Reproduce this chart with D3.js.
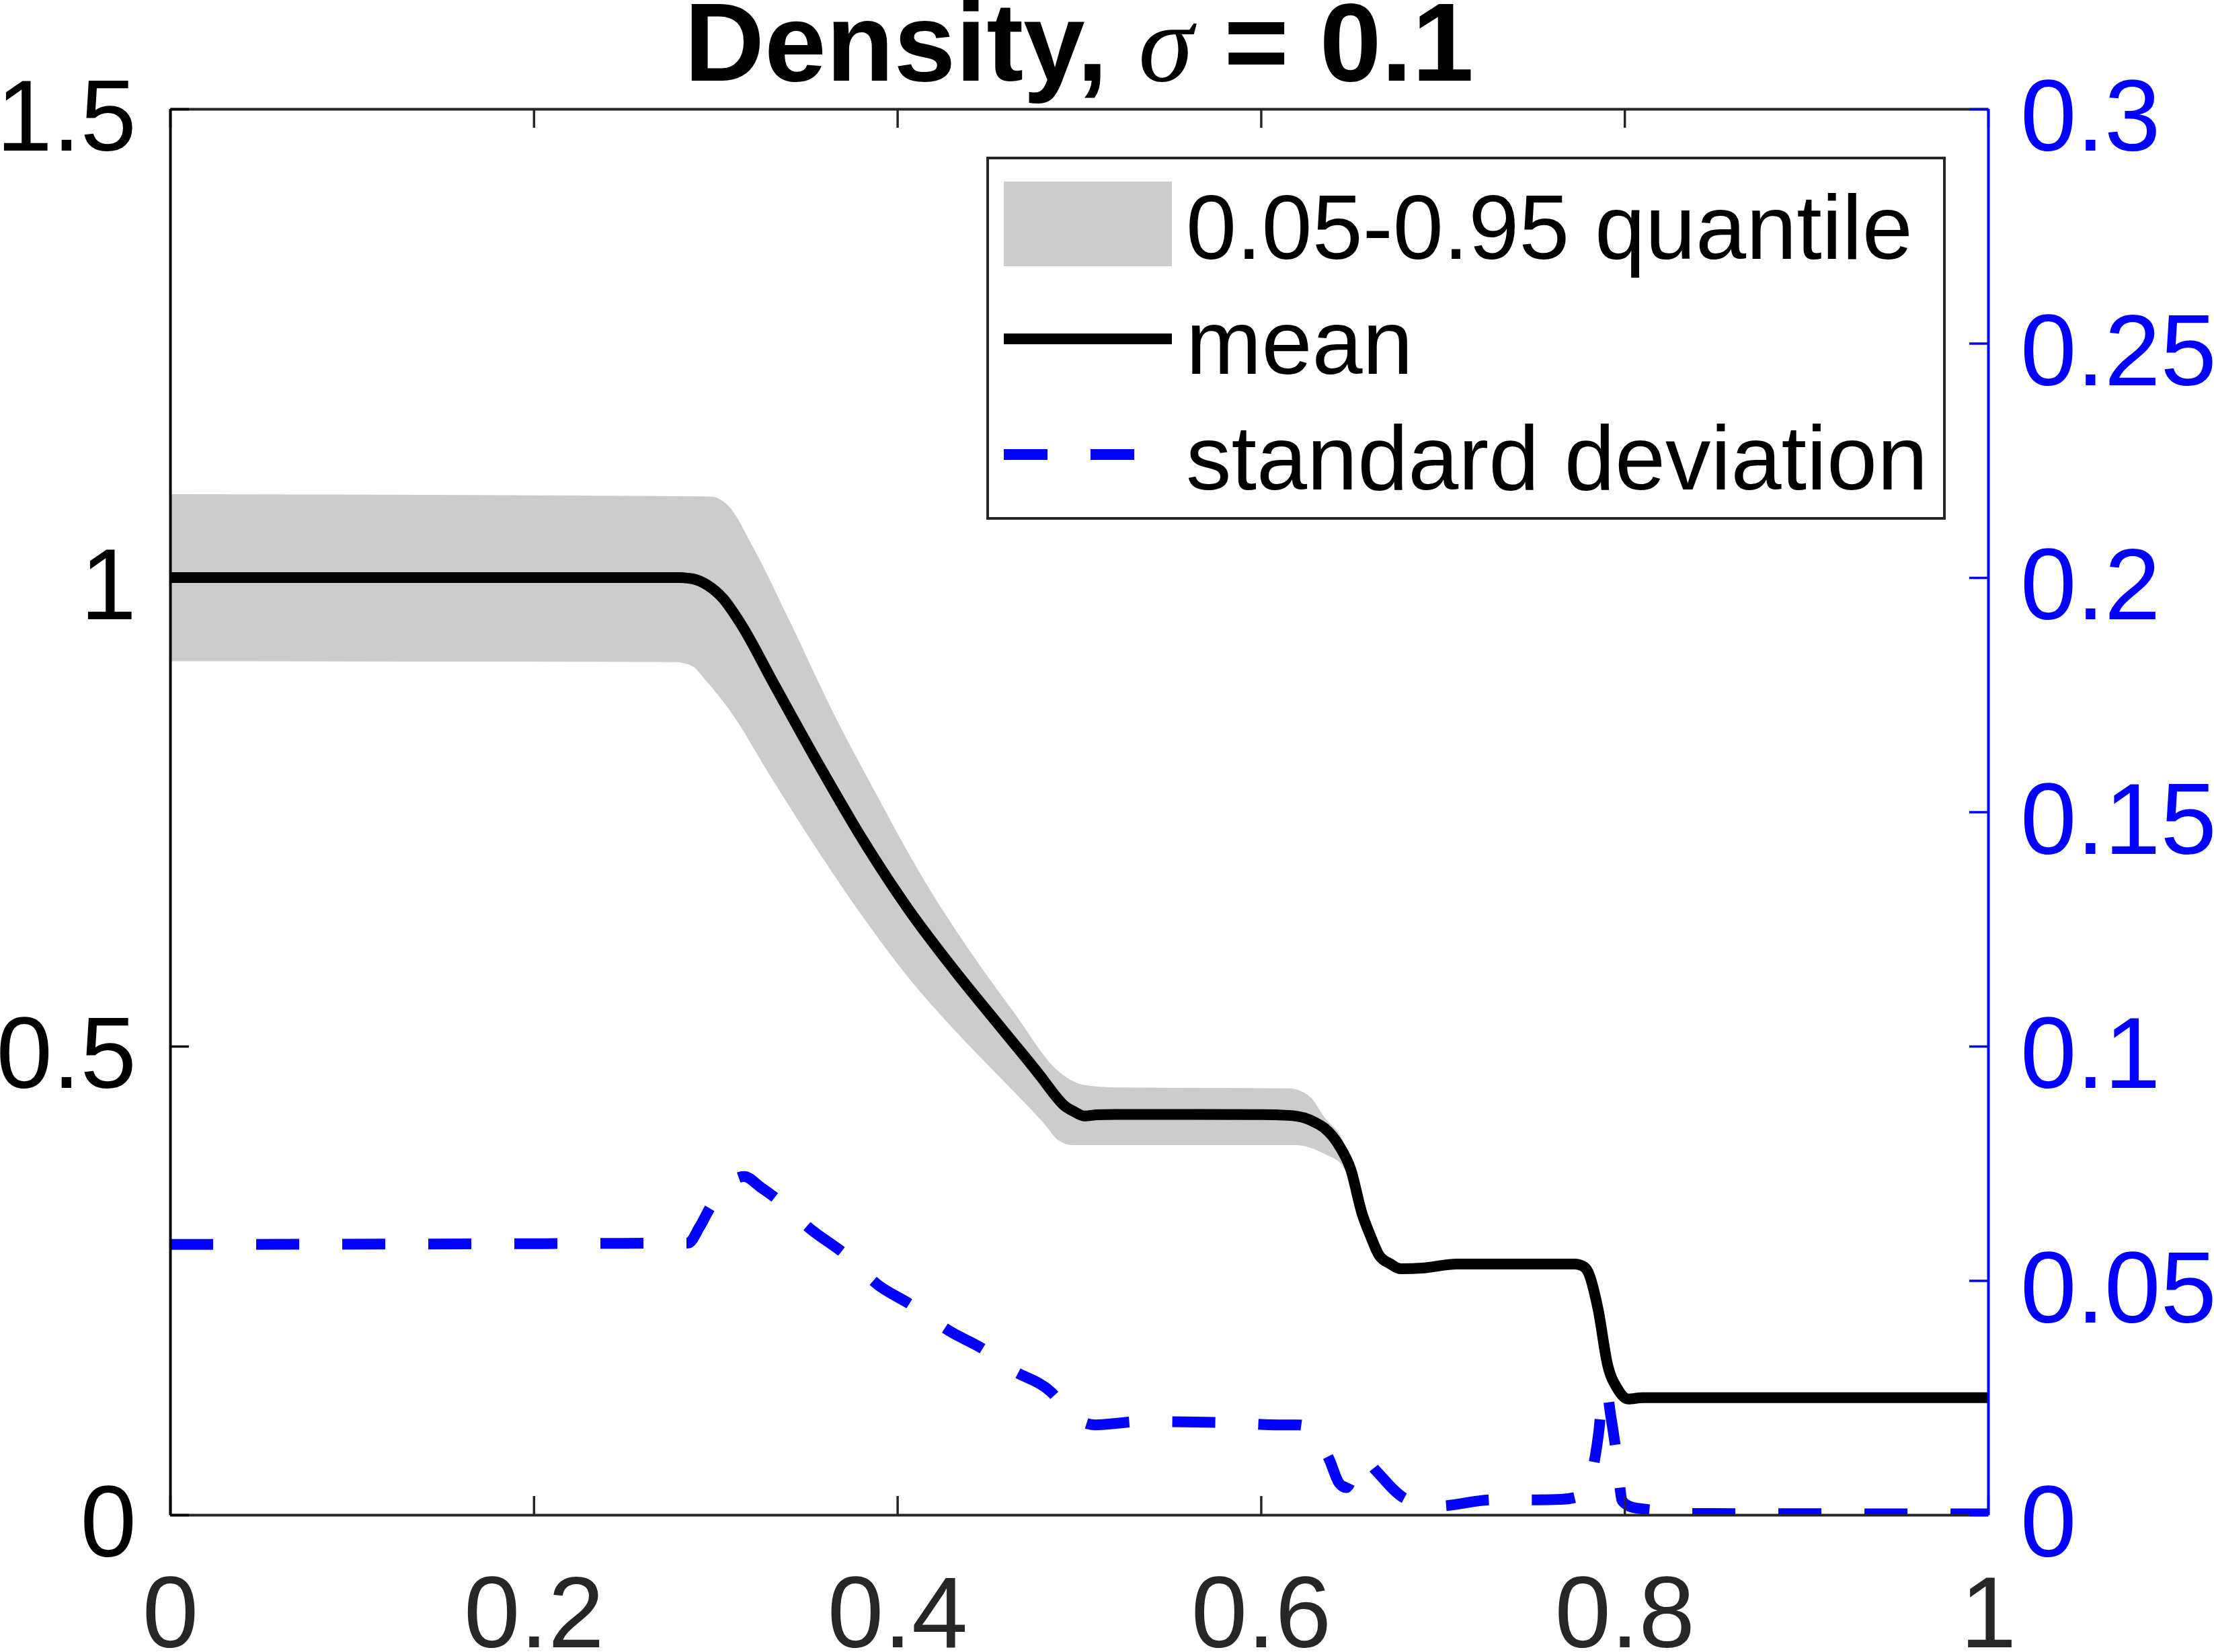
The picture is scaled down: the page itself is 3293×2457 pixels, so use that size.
<!DOCTYPE html>
<html>
<head>
<meta charset="utf-8">
<script src="https://cdn.jsdelivr.net/npm/d3@7"></script>
<style>
  body { margin: 0; background: #fff; }
  text { font-family: "Liberation Sans", Arial, Helvetica, sans-serif; }
</style>
</head>
<body>
<div id="chart"></div>
<script>
// mean density (left axis)
const meanX = [0, 0.28, 0.2874, 0.2957, 0.304, 0.3139, 0.332, 0.3568, 0.3816, 0.4063, 0.4311, 0.4559, 0.4806, 0.487, 0.4922, 0.497, 0.503, 0.51, 0.52, 0.6, 0.615, 0.624, 0.63, 0.635, 0.643, 0.6494, 0.6557, 0.66, 0.665, 0.671, 0.677, 0.69, 0.7077, 0.7727, 0.777, 0.78, 0.7855, 0.7907, 0.796, 0.802, 0.81, 1.0];
const meanY = [1.0, 1.0, 0.9986, 0.9917, 0.978, 0.9507, 0.887, 0.8005, 0.7184, 0.6456, 0.5818, 0.5225, 0.4634, 0.447, 0.436, 0.4305, 0.4255, 0.4268, 0.4272, 0.427, 0.4262, 0.4235, 0.4185, 0.4125, 0.394, 0.3687, 0.321, 0.299, 0.277, 0.268, 0.2625, 0.2635, 0.2676, 0.2676, 0.2655, 0.259, 0.219, 0.160, 0.135, 0.1236, 0.125, 0.125];

// 0.05-0.95 quantile band (left axis), upper and lower edges
const bandHiX = [0, 0.2974, 0.3073, 0.3205, 0.3403, 0.365, 0.3898, 0.4146, 0.4394, 0.4641, 0.4889, 0.502, 0.52, 0.6157, 0.627, 0.635, 0.645, 0.6557, 0.665, 0.671, 0.677, 0.69, 0.7077, 0.7727, 0.78, 0.7855, 0.7907, 0.796, 0.802, 0.81, 1.0];
const bandHi  = [1.089, 1.0865, 1.076, 1.033, 0.9555, 0.855, 0.764, 0.6775, 0.603, 0.5362, 0.4727, 0.459, 0.456, 0.455, 0.446, 0.424, 0.40, 0.335, 0.287, 0.272, 0.266, 0.267, 0.2705, 0.2705, 0.266, 0.232, 0.175, 0.142, 0.1265, 0.128, 0.128];
const bandLoX = [0, 0.2776, 0.2874, 0.294, 0.3073, 0.332, 0.3568, 0.3816, 0.4063, 0.4311, 0.4559, 0.4806, 0.4884, 0.4967, 0.6185, 0.635, 0.645, 0.6557, 0.665, 0.671, 0.677, 0.69, 0.7077, 0.7727, 0.78, 0.7855, 0.7907, 0.796, 0.802, 0.81, 1.0];
const bandLo  = [0.9107, 0.9098, 0.9053, 0.8917, 0.8597, 0.7822, 0.707, 0.6364, 0.5727, 0.518, 0.4679, 0.4176, 0.400, 0.3945, 0.3945, 0.385, 0.372, 0.315, 0.272, 0.264, 0.259, 0.260, 0.2645, 0.2645, 0.254, 0.214, 0.155, 0.131, 0.121, 0.122, 0.122];

// standard deviation (right axis)
const stdX = [0, 0.285, 0.2912, 0.2973, 0.3157, 0.3249, 0.3341, 0.3525, 0.3709, 0.3893, 0.4077, 0.4292, 0.4475, 0.4629, 0.4843, 0.4935, 0.5027, 0.5089, 0.5333, 0.5794, 0.61, 0.6204, 0.6261, 0.6331, 0.6374, 0.643, 0.647, 0.652, 0.657, 0.6629, 0.6798, 0.6983, 0.7273, 0.7506, 0.765, 0.7747, 0.779, 0.7832, 0.786, 0.788, 0.790, 0.7925, 0.7959, 0.7987, 0.8044, 0.8186, 0.83, 1.0];
const stdY = [0.0577, 0.058, 0.0614, 0.0657, 0.0722, 0.0699, 0.0673, 0.0609, 0.0557, 0.0491, 0.0448, 0.0391, 0.0353, 0.031, 0.0263, 0.0225, 0.0197, 0.0192, 0.0199, 0.0197, 0.0192, 0.0192, 0.0187, 0.0149, 0.012, 0.0068, 0.0058, 0.0095, 0.012, 0.0096, 0.0034, 0.0019, 0.0032, 0.0032, 0.0033, 0.0039, 0.0058, 0.011, 0.0182, 0.026, 0.0265, 0.021, 0.012, 0.003, 0.0016, 0.0009, 0.0003, 0.0002];

const xTicks = [0, 0.2, 0.4, 0.6, 0.8, 1];
const xTickLabels = ["0", "0.2", "0.4", "0.6", "0.8", "1"];
const yLeftTicks = [0, 0.5, 1, 1.5];
const yLeftLabels = ["0", "0.5", "1", "1.5"];
const yRightTicks = [0, 0.05, 0.1, 0.15, 0.2, 0.25, 0.3];
const yRightLabels = ["0", "0.05", "0.1", "0.15", "0.2", "0.25", "0.3"];
const legendLabels = ["0.05-0.95 quantile", "mean", "standard deviation"];

const W = 3293, H = 2457;
const plotL = 253, plotR = 2957, plotT = 162, plotB = 2253;
const axisGrey = "#262626", blue = "#0000ff", bandGrey = "#cccccc";

const svg = d3.select("#chart").append("svg")
    .attr("width", W).attr("height", H)
    .style("display", "block");
svg.append("rect").attr("width", W).attr("height", H).attr("fill", "#fff");

const x = d3.scaleLinear().domain([0, 1]).range([plotL, plotR]);
const yL = d3.scaleLinear().domain([0, 1.5]).range([plotB, plotT]);
const yR = d3.scaleLinear().domain([0, 0.3]).range([plotB, plotT]);

svg.append("clipPath").attr("id", "plotclip")
    .append("rect").attr("x", plotL).attr("y", plotT).attr("width", plotR - plotL).attr("height", plotB - plotT);

const plot = svg.append("g").attr("clip-path", "url(#plotclip)");

// quantile band: upper edge forward, lower edge back
const edge = d3.line().x(d => x(d[0])).y(d => yL(d[1])).curve(d3.curveMonotoneX);
const hiPts = bandHiX.map((d, i) => [d, bandHi[i]]);
const loPts = bandLoX.map((d, i) => [d, bandLo[i]]).reverse();
const bandPath = edge(hiPts) + edge(loPts).replace(/^M/, "L") + "Z";
plot.append("path").attr("d", bandPath).attr("fill", bandGrey);

// mean
const meanData = meanX.map((d, i) => [d, meanY[i]]);
const meanLine = d3.line().x(d => x(d[0])).y(d => yL(d[1])).curve(d3.curveMonotoneX);
plot.append("path").datum(meanData).attr("d", meanLine)
    .attr("fill", "none").attr("stroke", "#000").attr("stroke-width", 16).attr("stroke-linejoin", "round");

// std, dashed on right axis
const stdData = stdX.map((d, i) => [d, stdY[i]]);
const stdLine = d3.line().x(d => x(d[0])).y(d => yR(d[1])).curve(d3.curveMonotoneX);
plot.append("path").datum(stdData).attr("d", stdLine)
    .attr("fill", "none").attr("stroke", blue).attr("stroke-width", 16).attr("stroke-dasharray", "64,64");

// axes
const fs = 150;
const xAxisB = svg.append("g").attr("transform", `translate(0,${plotB})`)
    .call(d3.axisBottom(x).tickValues(xTicks).tickFormat((d, i) => xTickLabels[i]).tickSize(-28).tickSizeOuter(0).tickPadding(90));
const xAxisT = svg.append("g").attr("transform", `translate(0,${plotT})`)
    .call(d3.axisTop(x).tickValues(xTicks).tickFormat("").tickSize(-28).tickSizeOuter(0));
[xAxisB, xAxisT].forEach(a => {
    a.select(".domain").attr("stroke", axisGrey).attr("stroke-width", 4);
    a.selectAll(".tick line").attr("stroke", axisGrey).attr("stroke-width", 3.5);
    a.selectAll("text").attr("fill", axisGrey).attr("font-size", fs)
        .style("font-family", "'Liberation Sans', Arial, sans-serif");
});

const yAxisL = svg.append("g").attr("transform", `translate(${plotL},0)`)
    .call(d3.axisLeft(yL).tickValues(yLeftTicks).tickFormat((d, i) => yLeftLabels[i]).tickSize(-28).tickSizeOuter(0).tickPadding(50));
yAxisL.select(".domain").attr("stroke", "#000").attr("stroke-width", 4);
yAxisL.selectAll(".tick line").attr("stroke", "#000").attr("stroke-width", 3.5);
yAxisL.selectAll("text").attr("fill", "#000").attr("font-size", fs).attr("dy", "0.41em")
    .style("font-family", "'Liberation Sans', Arial, sans-serif");

const yAxisR = svg.append("g").attr("transform", `translate(${plotR},0)`)
    .call(d3.axisRight(yR).tickValues(yRightTicks).tickFormat((d, i) => yRightLabels[i]).tickSize(-28).tickSizeOuter(0).tickPadding(48));
yAxisR.select(".domain").attr("stroke", blue).attr("stroke-width", 4);
yAxisR.selectAll(".tick line").attr("stroke", blue).attr("stroke-width", 3.5);
yAxisR.selectAll("text").attr("fill", blue).attr("font-size", fs).attr("dy", "0.41em")
    .style("font-family", "'Liberation Sans', Arial, sans-serif");

// title
const title = svg.append("text")
    .attr("x", (plotL + plotR) / 2).attr("y", 120)
    .attr("text-anchor", "middle")
    .attr("font-size", 165).attr("font-weight", "bold").attr("fill", "#000");
title.append("tspan").text("Density, ");
title.append("tspan").text("σ")
    .style("font-family", "'Liberation Serif', 'DejaVu Serif', serif")
    .attr("font-style", "italic").attr("font-weight", "normal");
title.append("tspan").text(" = 0.1");

// legend
const lg = svg.append("g");
lg.append("rect").attr("x", 1469).attr("y", 235).attr("width", 2892 - 1469).attr("height", 771 - 235)
    .attr("fill", "#fff").attr("stroke", axisGrey).attr("stroke-width", 4);
const rowY = [333, 504, 676];
lg.append("rect").attr("x", 1493).attr("y", 270).attr("width", 250).attr("height", 126).attr("fill", bandGrey);
lg.append("line").attr("x1", 1493).attr("x2", 1743).attr("y1", rowY[1]).attr("y2", rowY[1])
    .attr("stroke", "#000").attr("stroke-width", 16);
lg.append("line").attr("x1", 1493).attr("x2", 1743).attr("y1", rowY[2]).attr("y2", rowY[2])
    .attr("stroke", blue).attr("stroke-width", 16).attr("stroke-dasharray", "65,64");
lg.selectAll("text.lbl").data(legendLabels).enter().append("text")
    .attr("class", "lbl")
    .attr("x", 1764).attr("y", (d, i) => rowY[i] + 52)
    .attr("font-size", 135).attr("fill", "#000")
    .text(d => d);
</script>
</body>
</html>
